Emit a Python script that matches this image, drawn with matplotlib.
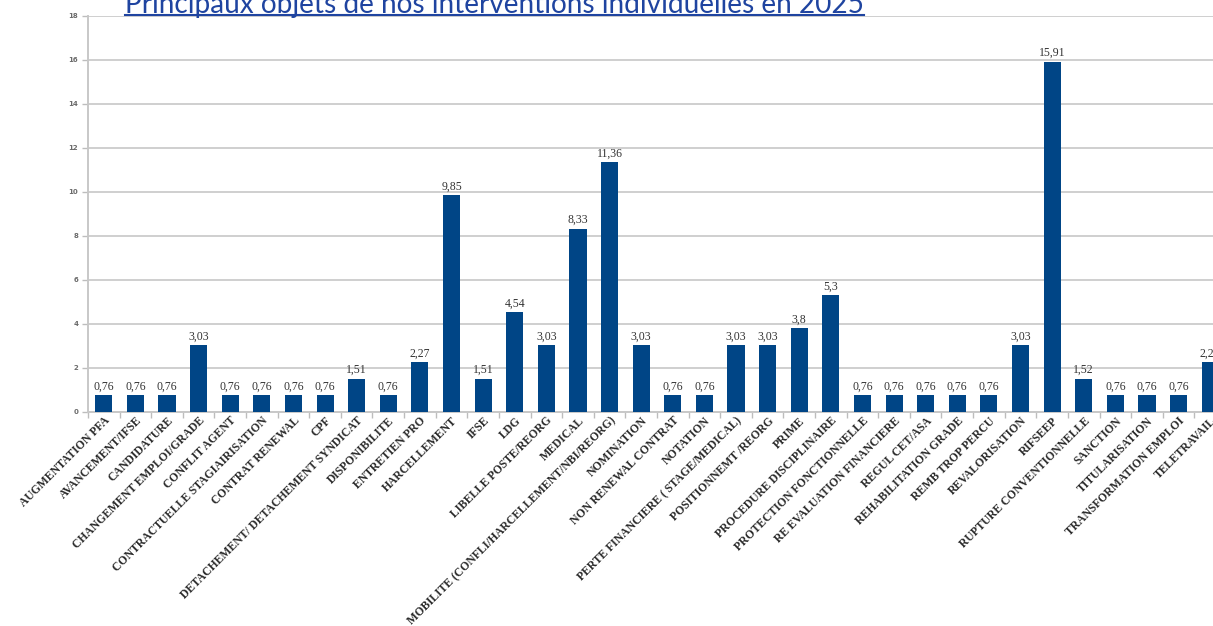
import matplotlib
matplotlib.use("Agg")
import matplotlib.pyplot as plt
from matplotlib.lines import Line2D
import numpy as np

# categories and share values (%)
categories = [
    "AUGMENTATION PFA", "AVANCEMENT/IFSE", "CANDIDATURE", "CHANGEMENT EMPLOI/GRADE",
    "CONFLIT AGENT", "CONTRACTUELLE STAGIAIRISATION", "CONTRAT RENEWAL", "CPF",
    "DETACHEMENT/ DETACHEMENT SYNDICAT", "DISPONIBILITE", "ENTRETIEN PRO", "HARCELLEMENT",
    "IFSE", "LDG", "LIBELLE POSTE/REORG", "MEDICAL",
    "MOBILITE (CONFLI/HARCELLEMENT/NBI/REORG)", "NOMINATION", "NON RENEWAL CONTRAT", "NOTATION",
    "PERTE FINANCIERE ( STAGE/MEDICAL)", "POSITIONNEMT /REORG", "PRIME", "PROCEDURE DISCIPLINAIRE",
    "PROTECTION FONCTIONNELLE", "RE EVALUATION FINANCIERE", "REGUL CET/ASA", "REHABILITATION GRADE",
    "REMB TROP PERCU", "REVALORISATION", "RIFSEEP", "RUPTURE CONVENTIONNELLE",
    "SANCTION", "TITULARISATION", "TRANSFORMATION EMPLOI", "TELETRAVAIL",
]
values = [
    0.76, 0.76, 0.76, 3.03,
    0.76, 0.76, 0.76, 0.76,
    1.51, 0.76, 2.27, 9.85,
    1.51, 4.54, 3.03, 8.33,
    11.36, 3.03, 0.76, 0.76,
    3.03, 3.03, 3.8, 5.3,
    0.76, 0.76, 0.76, 0.76,
    0.76, 3.03, 15.91, 1.52,
    0.76, 0.76, 0.76, 2.27,
]
y_ticks = [0, 2, 4, 6, 8, 10, 12, 14, 16, 18]
title = "Principaux objets de nos interventions individuelles en 2025"

W, H = 1213, 626
fig = plt.figure(figsize=(W / 100, H / 100), dpi=100)

# axes run past the right edge, like the cropped original
left_px, right_px = 88, 1226
bot_px, top_px = 412, 16
ax = fig.add_axes([left_px / W, (H - bot_px) / H,
                   (right_px - left_px) / W, (bot_px - top_px) / H])

x = np.arange(len(categories))
ax.bar(x, values, width=0.54, color="#004586", zorder=3)

for xi, v in zip(x, values):
    txt = ("%g" % v).replace(".", ",")
    ax.annotate(txt, (xi, v), xytext=(0, 2), textcoords="offset points",
                ha="center", va="bottom", fontsize=8.5, color="#333333",
                family="Liberation Serif", zorder=4)

ax.set_xlim(-0.5, len(categories) - 0.5)
ax.set_ylim(0, 18)
ax.set_yticks(y_ticks)
ax.set_yticklabels([str(t) for t in y_ticks], fontsize=5, fontweight="bold",
                   color="#6b6b6b")
ax.yaxis.grid(True, color="#cfcfcf", linewidth=1.4, zorder=0)

ax.set_xticks(x)
ax.set_xticklabels(categories, rotation=45, ha="right", rotation_mode="anchor",
                   fontsize=8.4, fontweight="bold", color="#2a2a2a",
                   family="Liberation Serif")
ax.set_xticks(np.arange(-0.5, len(categories), 1), minor=True)
ax.tick_params(axis="x", which="major", length=0, pad=2)
ax.tick_params(axis="x", which="minor", length=4, color="#bdbdbd", width=1)
ax.tick_params(axis="y", length=4, color="#bdbdbd", width=1, pad=3)

for s in ["top", "right"]:
    ax.spines[s].set_visible(False)
ax.spines["left"].set_color("#c8c8c8")
ax.spines["left"].set_linewidth(1.4)
ax.spines["bottom"].set_color("#c8c8c8")
ax.spines["bottom"].set_linewidth(1.4)

# underlined title, cut at the top; sized to span 125..866 px
title_color = "#1f44a0"
t = fig.text(125 / W, (H - 12.5) / H, title, fontsize=16, color=title_color,
             family="Lato", ha="left", va="baseline")
fig.canvas.draw()
w0 = t.get_window_extent().width
t.set_fontsize(16 * 741 / w0)
fig.canvas.draw()
bb = t.get_window_extent()
uy = (H - 15) / H
fig.add_artist(Line2D([bb.x0 / W, bb.x1 / W], [uy, uy], color=title_color,
                      linewidth=1.5, transform=fig.transFigure))

fig.savefig("out.png", dpi=100)
